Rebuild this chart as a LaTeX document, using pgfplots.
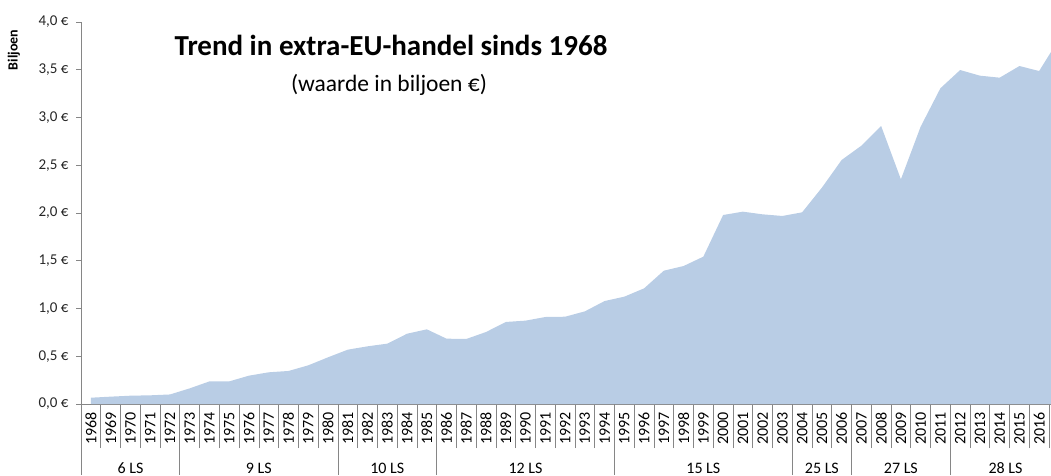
\documentclass[border=0pt]{standalone}
\usepackage{fontspec}
\setmainfont{Carlito}
\usepackage{pgfplots}
\pgfplotsset{compat=1.18}
\definecolor{areablue}{HTML}{B9CDE5}
\definecolor{axisgray}{HTML}{868686}
\begin{document}
\begin{tikzpicture}[x=1pt,y=1pt]
\path[use as bounding box] (0,0) rectangle (1051,475);
\begin{axis}[
  at={(81pt,71pt)}, anchor=south west,
  width=970pt, height=382pt, scale only axis,
  xmin=-0.506, xmax=48.6, ymin=0, ymax=4,
  axis x line=bottom, axis y line=left,
  axis line style={draw=axisgray, line width=0.8pt, -},
  tick align=outside,
  major tick length=5pt,
  minor tick length=44pt,
  ytick={0,0.5,...,4},
  yticklabels={{0,0 €},{0,5 €},{1,0 €},{1,5 €},{2,0 €},{2,5 €},{3,0 €},{3,5 €},{4,0 €}},
  yticklabel style={font=\fontsize{15}{17}\selectfont, text=black!85, xshift=-4pt},
  ytick style={draw=axisgray, line width=0.8pt},
  xtick={0,...,48},
  xticklabels={1968,1969,1970,1971,1972,1973,1974,1975,1976,1977,1978,1979,1980,1981,1982,1983,1984,1985,1986,1987,1988,1989,1990,1991,1992,1993,1994,1995,1996,1997,1998,1999,2000,2001,2002,2003,2004,2005,2006,2007,2008,2009,2010,2011,2012,2013,2014,2015,2016},
  major x tick style={draw=none},
  minor xtick={-0.5,0.5,...,48.5},
  minor x tick style={draw=axisgray, line width=0.8pt},
  xticklabel style={rotate=90, anchor=east, font=\fontsize{16}{18}\selectfont, text=black, yshift=0pt},
  /pgf/number format/assume math mode=true,
  clip=true,
  after end axis/.code={
    \foreach \g in {-0.5,4.5,12.5,17.5,26.5,35.5,38.5,43.5}
      \draw[axisgray, line width=0.8pt] (axis cs:\g,0) -- ++(0pt,-71pt);
    \foreach \c/\t in {2/6 LS,8.5/9 LS,15/10 LS,22/12 LS,31/15 LS,37/25 LS,41/27 LS,46.3/28 LS}
      \node[font=\fontsize{16}{18}\selectfont, anchor=base] at ([yshift=-69pt]axis cs:\c,0) {\t};
  },
]
\addplot[fill=areablue, draw=none] table {
x y
0 0.066
1 0.077
2 0.087
3 0.091
4 0.100
5 0.164
6 0.237
7 0.237
8 0.297
9 0.332
10 0.346
11 0.405
12 0.489
13 0.569
14 0.604
15 0.632
16 0.736
17 0.782
18 0.684
19 0.681
20 0.754
21 0.859
22 0.873
23 0.911
24 0.914
25 0.970
26 1.078
27 1.124
28 1.211
29 1.396
30 1.445
31 1.543
32 1.979
33 2.014
34 1.986
35 1.969
36 2.007
37 2.265
38 2.555
39 2.705
40 2.911
41 2.353
42 2.904
43 3.306
44 3.497
45 3.438
46 3.417
47 3.539
48 3.487
49 3.820
} \closedcycle;
\end{axis}
\node[anchor=base, font=\fontsize{29}{31}\selectfont\bfseries] at (391,419.3) {Trend in extra-EU-handel sinds 1968};
\node[anchor=base, font=\fontsize{23.5}{25}\selectfont] at (389,383.3) {(waarde in biljoen €)};
\node[rotate=90, font=\fontsize{14}{16}\selectfont\bfseries] at (14,425) {Biljoen};
\end{tikzpicture}
\end{document}
